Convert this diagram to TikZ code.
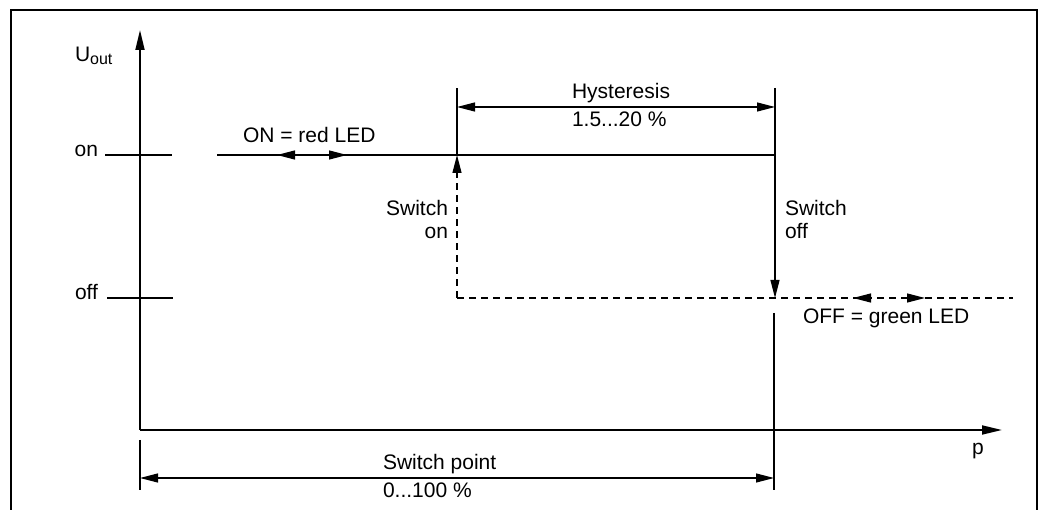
\documentclass[tikz,border=0pt]{standalone}
\usepackage{fontspec}
\setmainfont{Liberation Sans}
\usetikzlibrary{arrows.meta}
\begin{document}
\begin{tikzpicture}[x=1pt,y=-1pt,
  lab/.style={font=\fontsize{21}{23}\selectfont, inner sep=0pt, outer sep=0pt},
  ln/.style={line width=1.2pt},
  ax/.style={line width=1.8pt},
  tip/.style={-{Triangle[length=18pt,width=9pt]}},
  bigtip/.style={-{Triangle[length=20pt,width=9pt]}},
  dtip/.style={{Triangle[length=18pt,width=9pt]}-{Triangle[length=18pt,width=9pt]}},
  dsh/.style={dash pattern=on 7pt off 5pt}]
\useasboundingbox (0,0) rectangle (1039,510);
% frame
\coordinate (fbl) at (11,510);
\coordinate (ftl) at (11,10);
\coordinate (ftr) at (1037,10);
\coordinate (fbr) at (1037,510);
\draw[ln] (fbl) -- (ftl) -- (ftr) -- (fbr);

% axes
\coordinate (O) at (140,430);
\coordinate (ytop) at (140,30);
\coordinate (xend) at (1002,430);
\draw[ax, bigtip] (O) -- (ytop);
\draw[ax, bigtip] (O) -- (xend);

% labels
\node[lab, anchor=base west] (uout) at (75,62) {U\raisebox{-3pt}{\fontsize{16}{16}\selectfont out}};
\node[lab, anchor=mid east] (onlab) at (98,154) {on};
\node[lab, anchor=mid east] (offlab) at (98,297) {off};
\node[lab, anchor=base west] (plab) at (972,454) {p};

% ticks
\coordinate (ont1) at (105,155);
\coordinate (ont2) at (172,155);
\coordinate (offt1) at (107,298);
\coordinate (offt2) at (173,298);
\draw[ln] (ont1) -- (ont2);
\draw[ln] (offt1) -- (offt2);

% key points
\coordinate (onstart) at (217,155);
\coordinate (son) at (457,155);
\coordinate (soff) at (775,155);
\coordinate (sonlow) at (457,298);
\coordinate (sofflow) at (775,298);
\coordinate (offend) at (1013,298);
\coordinate (htop1) at (457,88);
\coordinate (htop2) at (775,88);
\coordinate (hd1) at (457,107);
\coordinate (hd2) at (775,107);

% ON line
\draw[ln] (onstart) -- (soff);
\coordinate (ona1) at (295,155);
\coordinate (ona1t) at (277,155);
\coordinate (ona2) at (329,155);
\coordinate (ona2t) at (347,155);
\draw[ln, tip] (ona1) -- (ona1t);
\draw[ln, tip] (ona2) -- (ona2t);
\node[lab, anchor=base west] (onred) at (243,143) {ON = red LED};

% OFF line
\draw[ln, dsh] (sonlow) -- (offend);
\coordinate (offa1) at (871,298);
\coordinate (offa1t) at (853,298);
\coordinate (offa2) at (907,298);
\coordinate (offa2t) at (925,298);
\draw[ln, tip] (offa1) -- (offa1t);
\draw[ln, tip] (offa2) -- (offa2t);
\node[lab, anchor=base west] (offgreen) at (803,324) {OFF = green LED};

% switch on (dashed up)
\draw[ln, dsh, tip] (sonlow) -- (son);
\draw[ln] (son) -- (htop1);
\node[lab, anchor=north east, align=right] (swon) at (448,200) {Switch\\on};

% switch off
\draw[ln] (htop2) -- (soff);
\draw[ln, tip] (soff) -- (sofflow);
\node[lab, anchor=north west, align=left] (swoff) at (785,200) {Switch\\off};

% hysteresis
\draw[ln, dtip] (hd1) -- (hd2);
\node[lab, anchor=base west] (hyst) at (572,99) {Hysteresis};
\node[lab, anchor=base west] (hystv) at (572,127) {1.5...20 \%};

% switch point dimension
\coordinate (sp1a) at (140,440);
\coordinate (sp1b) at (140,490);
\coordinate (sp2a) at (774,313);
\coordinate (sp2b) at (774,490);
\coordinate (spd1) at (140,478);
\coordinate (spd2) at (774,478);
\draw[ln] (sp1a) -- (sp1b);
\draw[ln] (sp2a) -- (sp2b);
\draw[ln, dtip] (spd1) -- (spd2);
\node[lab, anchor=base west] (sp) at (383,469) {Switch point};
\node[lab, anchor=base west] (spv) at (383,497) {0...100 \%};
\end{tikzpicture}
\end{document}
